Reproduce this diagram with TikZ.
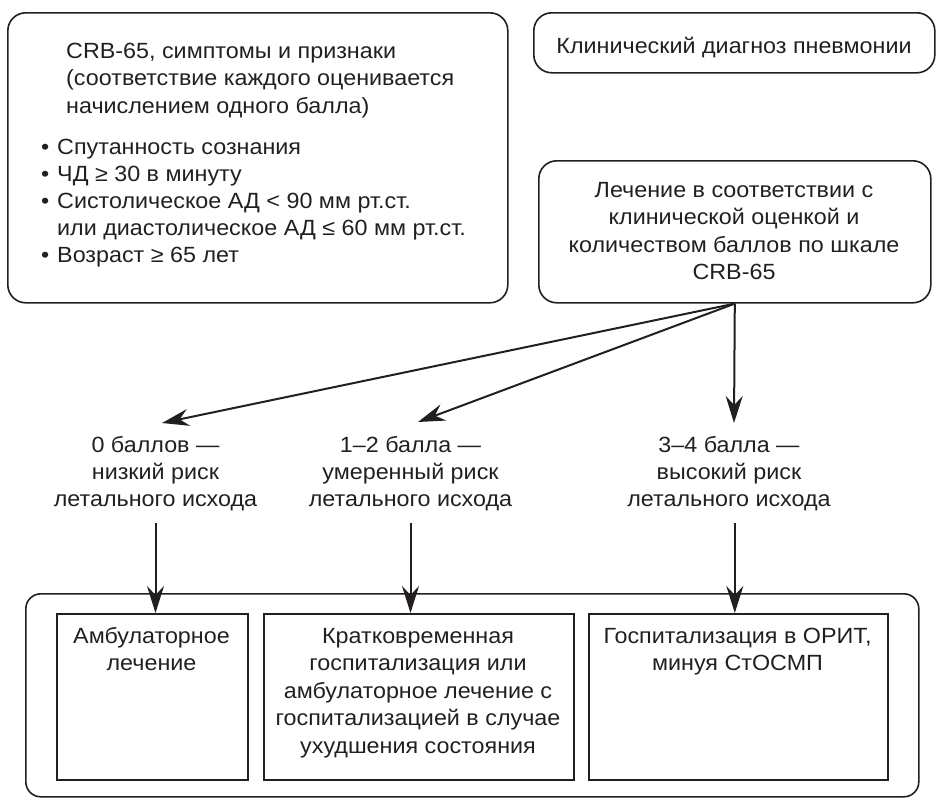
\documentclass[tikz,border=0pt]{standalone}
\usepackage{fontspec}
\setmainfont{Liberation Sans}[FakeStretch=1.06]
\usetikzlibrary{arrows.meta}
\definecolor{ink}{HTML}{231F20}
\newcommand\mybullet{\makebox[16pt][l]{•}}
\begin{document}
\begin{tikzpicture}[x=1pt,y=-1pt,
  every node/.style={text=ink, font=\fontsize{22}{27.5}\selectfont},
  rbox/.style={draw=ink, line width=1.6pt, rounded corners=18pt, anchor=north west, inner sep=0pt},
  sbox/.style={draw=ink, line width=2.2pt, anchor=north west, inner sep=0pt},
  txt/.style={inner sep=0pt, anchor=north, align=center},
  ltxt/.style={inner sep=0pt, anchor=north west, align=left},
  arr/.style={draw=ink, line width=2pt, -{Stealth[length=27pt,width=17pt,inset=9pt]}}]
\useasboundingbox (0,0) rectangle (936,798);

% boxes
\node[rbox, minimum width=500pt, minimum height=290pt] (A) at (7,12) {};
\node[rbox, minimum width=401pt, minimum height=60pt] (B) at (533,12) {};
\node[rbox, minimum width=392pt, minimum height=142pt] (C) at (538,160) {};
\node[rbox, rounded corners=15pt, minimum width=893pt, minimum height=203pt] (O) at (25,593) {};
\node[sbox, minimum width=191pt, minimum height=166pt] (R1) at (56,613) {};
\node[sbox, minimum width=310pt, minimum height=166pt] (R2) at (263,613) {};
\node[sbox, minimum width=299pt, minimum height=166pt] (R3) at (588,613) {};

% texts
\node[ltxt] (Ah) at (66,38.75) {\strut CRB-65, симптомы и признаки\\(соответствие каждого оценивается\\начислением одного балла)};
\node[ltxt, font=\fontsize{22}{27}\selectfont] (Al) at (41,135.75) {\strut\mybullet Спутанность сознания\\\mybullet ЧД ≥ 30 в минуту\\\mybullet Систолическое АД < 90 мм рт.ст.\\\hspace*{16pt}или диастолическое АД ≤ 60 мм рт.ст.\\\mybullet Возраст ≥ 65 лет};
\node[txt] (Bt) at (734,33.75) {\strut Клинический диагноз пневмонии};
\node[txt] (Ct) at (734,177.75) {\strut Лечение в соответствии с\\клинической оценкой и\\количеством баллов по шкале\\CRB-65};

\node[txt, font=\fontsize{22}{27}\selectfont] (L1) at (155.5,433.75) {\strut 0 баллов —\\низкий риск\\летального исхода};
\node[txt, font=\fontsize{22}{27}\selectfont] (L2) at (410.5,433.75) {\strut 1–2 балла —\\умеренный риск\\летального исхода};
\node[txt, font=\fontsize{22}{27}\selectfont] (L3) at (729,433.75) {\strut 3–4 балла —\\высокий риск\\летального исхода};

\node[txt] (T1) at (151.5,623.75) {\strut Амбулаторное\\лечение};
\node[txt] (T2) at (418,623.75) {\strut Кратковременная\\госпитализация или\\амбулаторное лечение с\\госпитализацией в случае\\ухудшения состояния};
\node[txt] (T3) at (737.5,623.75) {\strut Госпитализация в ОРИТ,\\минуя СтОСМП};

% connectors
\coordinate (t1) at (162,423);
\coordinate (t2) at (418,422);
\coordinate (t3) at (734,423);
\draw[arr] (C.south) -- (t1);
\draw[arr] (C.south) -- (t2);
\draw[arr] (C.south) -- (t3);
\draw[arr, shorten <=12pt] (L1.south) -- (L1.south |- R1.north);
\draw[arr, shorten <=12pt] (L2.south) -- (L2.south |- R2.north);
\draw[arr, shorten <=12pt] (C.south |- L3.south) -- (C.south |- R3.north);
\end{tikzpicture}
\end{document}
